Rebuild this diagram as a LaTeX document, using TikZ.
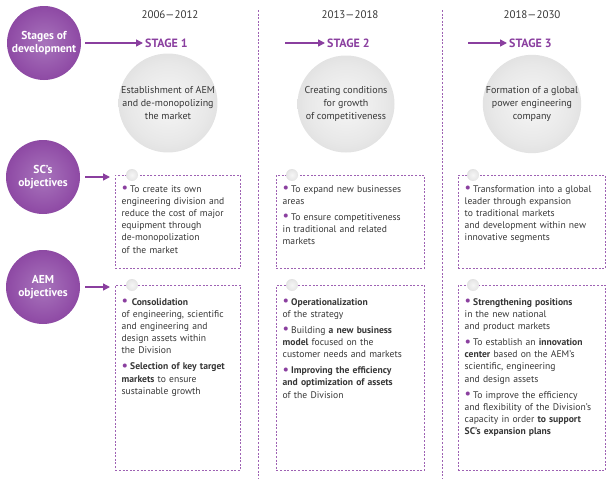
\documentclass[tikz,border=0pt]{standalone}
\usepackage{fontspec}
\setmainfont{PT Sans}
\usetikzlibrary{arrows.meta}
\definecolor{purp}{HTML}{8A3F9F}
\definecolor{txt}{HTML}{363636}
\definecolor{dashc}{HTML}{9E62B3}
\pgfdeclareradialshading{purpball}{\pgfpoint{0bp}{0bp}}{color(0bp)=(rgb,255:red,168;green,116;blue,188); color(22bp)=(rgb,255:red,145;green,78;blue,167); color(50bp)=(rgb,255:red,108;green,38;blue,132)}
\pgfdeclareradialshading{grayball}{\pgfpoint{0bp}{0bp}}{color(0bp)=(rgb,255:red,246;green,246;blue,246); color(20bp)=(rgb,255:red,232;green,232;blue,232); color(40bp)=(rgb,255:red,210;green,210;blue,210); color(50bp)=(rgb,255:red,192;green,192;blue,192)}
\newcommand\itm[1]{\hangindent=8.5pt\hangafter=1\noindent\makebox[8.5pt][l]{\textcolor{purp}{\raisebox{-0.6pt}{\scalebox{1.5}{\textbullet}}}}#1}
\newcommand\gap{\par\vspace{3.8pt}}
\tikzset{
  pcircle/.style={circle, minimum size=74, inner sep=0, shading=purpball, text=white, font=\bfseries\fontsize{11.5}{13}\selectfont, align=center},
  gcircle/.style={circle, minimum size=97, inner sep=0, shading=grayball, text=txt, font=\fontsize{10}{13}\selectfont, align=center},
  yearlbl/.style={text=txt, font=\fontsize{11}{13}\selectfont, inner sep=0},
  stagelbl/.style={text=purp, font=\bfseries\fontsize{12}{14}\selectfont, inner sep=0, anchor=west},
  arr/.style={draw=purp, line width=1.4, -{Triangle[length=7,width=7]}},
  divline/.style={draw=dashc, line width=0.8, dash pattern=on 2 off 1.6},
  dbox/.style={draw=dashc, line width=0.8, dash pattern=on 2 off 1.6, anchor=north west, inner sep=0},
  ballnode/.style={circle, minimum size=12, inner sep=0, shading=grayball},
  itemtext/.style={text=txt, font=\fontsize{9.6}{12.2}\selectfont, align=left, inner sep=0, anchor=base west},
}
\begin{document}
\begin{tikzpicture}[x=1pt,y=-1pt]
\useasboundingbox (0,0) rectangle (611,479);
% dividers
\coordinate (d1t) at (258,10); \coordinate (d1b) at (258,479);
\coordinate (d2t) at (442,10); \coordinate (d2b) at (442,479);
\draw[divline] (d1t) -- (d1b);
\draw[divline] (d2t) -- (d2b);
% left circles
\node[pcircle] (stages) at (44,43) {Stages of\\development};
\node[pcircle] (sc) at (43,177) {SC's\\objectives};
\node[pcircle] (aem) at (43,287) {AEM\\objectives};
% years
\node[yearlbl] (y1) at (170,15) {2006—2012};
\node[yearlbl] (y2) at (350,15) {2013—2018};
\node[yearlbl] (y3) at (532,15) {2018—2030};
% stages
\node[stagelbl] (s1) at (145,43) {STAGE 1};
\node[stagelbl] (s2) at (327,43) {STAGE 2};
\node[stagelbl] (s3) at (509,43) {STAGE 3};
\coordinate (a2) at (285,43);
\coordinate (a3) at (468,43);
\draw[arr] (stages.east) ++(4,0) -- ([xshift=-2]s1.west);
\draw[arr] (a2) -- ([xshift=-2]s2.west);
\draw[arr] (a3) -- ([xshift=-2]s3.west);
% gray circles
\node[gcircle] (g1) at (168,103) {Establishment of AEM\\and de-monopolizing\\the market};
\node[gcircle] (g2) at (346,104) {Creating conditions\\for growth\\of competitiveness};
\node[gcircle] (g3) at (532,104) {Formation of a global\\power engineering\\company};
% boxes
\node[dbox, minimum width=125, minimum height=93] (sc1) at (115,175) {};
\node[dbox, minimum width=148, minimum height=93] (sc2) at (276,175) {};
\node[dbox, minimum width=147, minimum height=93] (sc3) at (458,175) {};
\node[dbox, minimum width=125, minimum height=185] (aem1) at (115,285) {};
\node[dbox, minimum width=148, minimum height=185] (aem2) at (276,285) {};
\node[dbox, minimum width=147, minimum height=185] (aem3) at (458,285) {};
% balls
\node[ballnode] (b1) at (132,175) {};
\node[ballnode] (b2) at (292,175) {};
\node[ballnode] (b3) at (473,175) {};
\node[ballnode] (b4) at (132,285) {};
\node[ballnode] (b5) at (292,285) {};
\node[ballnode] (b6) at (473,285) {};
% row arrows
\draw[arr] (sc.east) ++(5,0) -- ([xshift=-5]sc1.west |- sc.east);
\draw[arr] (aem.east) ++(5,0) -- ([xshift=-5]aem1.west |- aem.east);
% texts
\node[itemtext, text width=116] (t1) at (121.5,192) {\itm{To create its own\\engineering division and\\reduce the cost of major\\equipment through\\de-monopolization\\of the market}};
\node[itemtext, text width=139] (t2) at (282.5,192) {\itm{To expand new businesses\\areas}\gap\itm{To ensure competitiveness\\in traditional and related\\markets}};
\node[itemtext, text width=141] (t3) at (464.5,192) {\itm{Transformation into a global\\leader through expansion\\to traditional markets\\and development within new\\innovative segments}};
\node[itemtext, text width=116] (t4) at (121.5,305) {\itm{\,\textbf{Consolidation}\\of engineering, scientific\\and engineering and\\design assets within\\the Division}\gap\itm{\textbf{Selection of key target}\\\textbf{markets} to ensure\\sustainable growth}};
\node[itemtext, text width=141] (t5) at (282.5,305) {\itm{\textbf{Operationalization}\\of the strategy}\gap\itm{Building \textbf{a new business}\\\textbf{model} focused on the\\customer needs and markets}\gap\itm{\textbf{Improving the efficiency}\\\textbf{and optimization of assets}\\of the Division}};
\node[itemtext, text width=141] (t6) at (464.5,305) {\itm{\textbf{Strengthening positions}\\in the new national\\and product markets}\gap\itm{To establish an \textbf{innovation}\\\textbf{center} based on the AEM's\\scientific, engineering\\and design assets}\gap\itm{To improve the efficiency\\and flexibility of the Division's\\capacity in order \textbf{to support}\\\textbf{SC's expansion plans}}};
\end{tikzpicture}
\end{document}
